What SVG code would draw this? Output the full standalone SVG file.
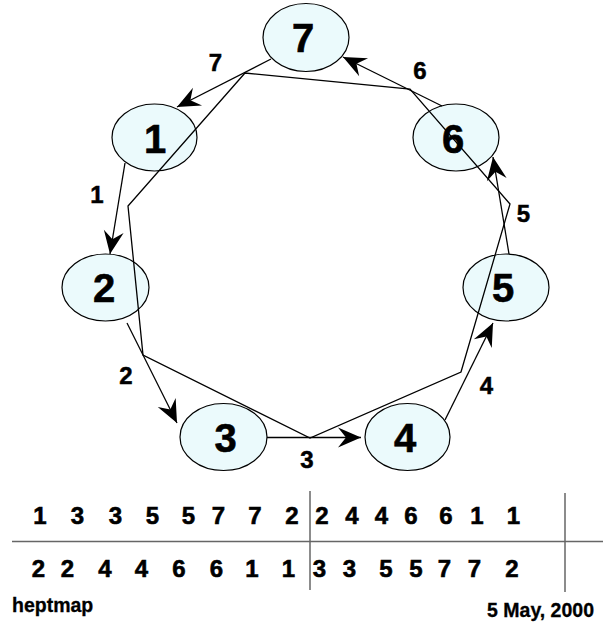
<svg xmlns="http://www.w3.org/2000/svg" width="603" height="624" viewBox="0 0 603 624">
<style>
.node ellipse{fill:#EBFAFC;stroke:#000;stroke-width:1.2}
.nl{font-family:"Liberation Sans",Arial,sans-serif;font-weight:bold;font-size:40px;text-anchor:middle;fill:#000;stroke:#000;stroke-width:0.6}
.el{font-family:"Liberation Sans",Arial,sans-serif;font-weight:bold;font-size:24px;text-anchor:middle;fill:#000;stroke:#000;stroke-width:0.5}
.tb{font-family:"Liberation Sans",Arial,sans-serif;font-weight:bold;font-size:24px;text-anchor:middle;fill:#000;stroke:#000;stroke-width:0.6}
.ft{font-family:"Liberation Sans",Arial,sans-serif;font-weight:bold;font-size:19.5px;fill:#000;stroke:#000;stroke-width:0.3}
.edge{fill:none;stroke:#000;stroke-width:1.3}
.grid{stroke:#666;stroke-width:1.5}
</style>
<defs>
<marker id="ah" viewBox="-24 -12 26 24" refX="0" refY="0" markerWidth="26" markerHeight="24" markerUnits="userSpaceOnUse" orient="auto">
<path d="M0,0 L-23,-10 L-15,0 L-23,10 Z" fill="#000"/>
</marker>
</defs>
<g id="node7" class="node"><ellipse cx="306" cy="37.5" rx="43" ry="34"/><text class="nl" x="303" y="52">7</text></g>
<g id="node1" class="node"><ellipse cx="154.5" cy="137.5" rx="42.5" ry="33.5"/><text class="nl" x="155" y="153">1</text></g>
<g id="node6" class="node"><ellipse cx="456" cy="137.5" rx="43" ry="33.5"/><text class="nl" x="453" y="153">6</text></g>
<g id="node2" class="node"><ellipse cx="105.5" cy="287.5" rx="43.5" ry="33.5"/><text class="nl" x="104" y="302">2</text></g>
<g id="node5" class="node"><ellipse cx="506" cy="287.5" rx="43" ry="33.5"/><text class="nl" x="503" y="302">5</text></g>
<g id="node3" class="node"><ellipse cx="223.5" cy="437" rx="43.5" ry="33.5"/><text class="nl" x="225.5" y="452">3</text></g>
<g id="node4" class="node"><ellipse cx="407.5" cy="437" rx="42.5" ry="33.5"/><text class="nl" x="405" y="452">4</text></g>
<g id="connectors">
<polygon class="edge" points="245,73 410,89 510,204 461,372 310,438 143,355 128,206"/>
<line class="edge" x1="271" y1="59" x2="177" y2="107" marker-end="url(#ah)"/>
<line class="edge" x1="125" y1="163" x2="110" y2="254" marker-end="url(#ah)"/>
<line class="edge" x1="127" y1="323" x2="177" y2="423" marker-end="url(#ah)"/>
<line class="edge" x1="267" y1="437.5" x2="361" y2="437.5" marker-end="url(#ah)"/>
<line class="edge" x1="445" y1="420" x2="493" y2="323" marker-end="url(#ah)"/>
<line class="edge" x1="509" y1="254" x2="493" y2="157" marker-end="url(#ah)"/>
<line class="edge" x1="442" y1="106" x2="343" y2="57" marker-end="url(#ah)"/>
</g>
<g id="edge-labels">
<text class="el" x="215.5" y="71">7</text>
<text class="el" x="97" y="203">1</text>
<text class="el" x="126" y="384">2</text>
<text class="el" x="307" y="468">3</text>
<text class="el" x="486.5" y="394">4</text>
<text class="el" x="523.5" y="222">5</text>
<text class="el" x="420" y="79">6</text>
</g>
<g id="table">
<line class="grid" x1="12" y1="541.5" x2="603" y2="541.5"/>
<line class="grid" x1="310" y1="491" x2="310" y2="590"/>
<line class="grid" x1="565" y1="493" x2="565" y2="592"/>
<text class="tb" y="524"><tspan x="40">1</tspan><tspan x="77.5">3</tspan><tspan x="115.5">3</tspan><tspan x="152.5">5</tspan><tspan x="188.5">5</tspan><tspan x="218.5">7</tspan><tspan x="255">7</tspan><tspan x="292">2</tspan><tspan x="322">2</tspan><tspan x="352">4</tspan><tspan x="381.5">4</tspan><tspan x="411">6</tspan><tspan x="446">6</tspan><tspan x="477">1</tspan><tspan x="513.5">1</tspan></text>
<text class="tb" y="577"><tspan x="38.5">2</tspan><tspan x="67.5">2</tspan><tspan x="105">4</tspan><tspan x="141.5">4</tspan><tspan x="179">6</tspan><tspan x="216.5">6</tspan><tspan x="252">1</tspan><tspan x="288.5">1</tspan><tspan x="319.5">3</tspan><tspan x="349.5">3</tspan><tspan x="386">5</tspan><tspan x="416">5</tspan><tspan x="444.5">7</tspan><tspan x="474.5">7</tspan><tspan x="512">2</tspan></text>
</g>
<text class="ft" x="12" y="612">heptmap</text>
<text class="ft" x="594" y="617" text-anchor="end">5 May, 2000</text>
</svg>
